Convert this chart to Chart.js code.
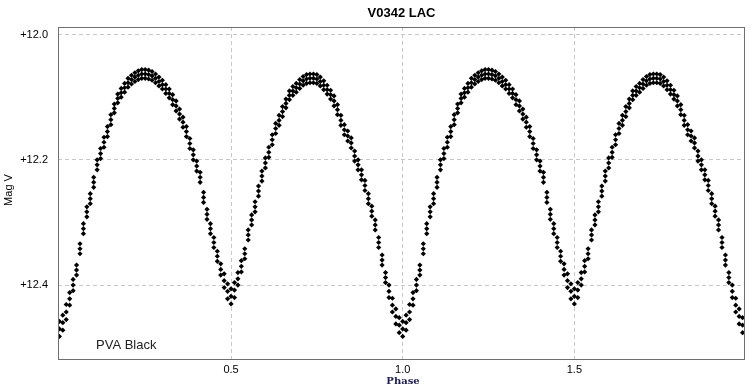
<!DOCTYPE html>
<html lang="en">
<head>
<meta charset="UTF-8">
<title>V0342 LAC</title>
<style>
  html, body { margin: 0; padding: 0; background: #fff; }
  #wrap { width: 752px; height: 389px; }
</style>
</head>
<body>
<div id="wrap"><canvas id="lc"></canvas></div>
<script src="https://cdn.jsdelivr.net/npm/chart.js"></script>
<script>
// phase of each reading (one cycle, plotted twice like the original)
const phases = [0.00,0.01,0.02,0.03,0.04,0.05,0.06,0.07,0.08,0.09,
  0.10,0.11,0.12,0.13,0.14,0.15,0.16,0.17,0.18,0.19,
  0.20,0.21,0.22,0.23,0.24,0.25,0.26,0.27,0.28,0.29,
  0.30,0.31,0.32,0.33,0.34,0.35,0.36,0.37,0.38,0.39,
  0.40,0.41,0.42,0.43,0.44,0.45,0.46,0.47,0.48,0.49,
  0.50,0.51,0.52,0.53,0.54,0.55,0.56,0.57,0.58,0.59,
  0.60,0.61,0.62,0.63,0.64,0.65,0.66,0.67,0.68,0.69,
  0.70,0.71,0.72,0.73,0.74,0.75,0.76,0.77,0.78,0.79,
  0.80,0.81,0.82,0.83,0.84,0.85,0.86,0.87,0.88,0.89,
  0.90,0.91,0.92,0.93,0.94,0.95,0.96,0.97,0.98,0.99];

// middle of the scattered band (mag V)
const magMid = [12.470,12.460,12.443,12.422,12.400,12.376,12.342,12.310,12.283,12.262,
  12.236,12.208,12.190,12.172,12.155,12.136,12.118,12.102,12.093,12.085,
  12.077,12.072,12.068,12.065,12.063,12.063,12.064,12.066,12.070,12.075,
  12.080,12.087,12.094,12.104,12.114,12.127,12.140,12.155,12.174,12.192,
  12.210,12.228,12.260,12.287,12.310,12.332,12.354,12.375,12.393,12.410,
  12.418,12.408,12.390,12.370,12.350,12.320,12.296,12.275,12.250,12.226,
  12.205,12.188,12.168,12.150,12.137,12.123,12.110,12.097,12.090,12.085,
  12.079,12.074,12.071,12.070,12.070,12.071,12.075,12.081,12.088,12.096,
  12.106,12.120,12.137,12.152,12.162,12.173,12.194,12.208,12.224,12.241,
  12.262,12.282,12.304,12.332,12.360,12.388,12.410,12.432,12.450,12.464];

// bright (upper) edge of the band
const magBright = [12.458,12.448,12.431,12.412,12.391,12.368,12.334,12.302,12.275,12.254,
  12.228,12.200,12.182,12.164,12.147,12.128,12.111,12.095,12.086,12.078,
  12.070,12.065,12.061,12.058,12.056,12.056,12.057,12.059,12.063,12.068,
  12.073,12.080,12.087,12.096,12.106,12.119,12.132,12.147,12.166,12.184,
  12.202,12.220,12.252,12.279,12.302,12.324,12.346,12.366,12.382,12.398,
  12.406,12.396,12.380,12.361,12.342,12.312,12.288,12.267,12.242,12.218,
  12.197,12.180,12.160,12.142,12.129,12.115,12.103,12.090,12.083,12.078,
  12.072,12.067,12.064,12.063,12.063,12.064,12.068,12.074,12.081,12.089,
  12.098,12.112,12.129,12.144,12.154,12.165,12.186,12.200,12.216,12.233,
  12.254,12.274,12.296,12.324,12.352,12.380,12.400,12.421,12.438,12.452];

// faint (lower) edge of the band
const magFaint = [12.482,12.472,12.455,12.432,12.409,12.384,12.350,12.318,12.291,12.270,
  12.244,12.216,12.198,12.180,12.163,12.144,12.125,12.109,12.100,12.092,
  12.084,12.079,12.075,12.072,12.070,12.070,12.071,12.073,12.077,12.082,
  12.087,12.094,12.101,12.112,12.122,12.135,12.148,12.163,12.182,12.200,
  12.218,12.236,12.268,12.295,12.318,12.340,12.362,12.384,12.404,12.422,
  12.430,12.420,12.400,12.379,12.358,12.328,12.304,12.283,12.258,12.234,
  12.213,12.196,12.176,12.158,12.145,12.131,12.117,12.104,12.097,12.092,
  12.086,12.081,12.078,12.077,12.077,12.078,12.082,12.088,12.095,12.103,
  12.114,12.128,12.145,12.160,12.170,12.181,12.202,12.216,12.232,12.249,
  12.270,12.290,12.312,12.340,12.368,12.396,12.420,12.443,12.462,12.476];

const xTicks = [0.5, 1.0, 1.5];
const yTicks = [12.0, 12.2, 12.4];

// phased curve shown over two cycles
function twoCycles(mags) {
  const pts = [];
  for (let c = 0; c < 2; c++) {
    phases.forEach((p, i) => pts.push({ x: p + c, y: mags[i] }));
  }
  return pts;
}

function dots(mags) {
  return {
    data: twoCycles(mags),
    pointStyle: 'rectRot',
    pointRadius: 2.6,
    pointBackgroundColor: '#000',
    pointBorderWidth: 0,
    showLine: false
  };
}

const decor = {
  id: 'decor',
  afterDraw(chart) {
    const ctx = chart.ctx;
    const a = chart.chartArea;
    ctx.save();
    ctx.strokeStyle = '#6e6e6e';
    ctx.lineWidth = 1;
    ctx.strokeRect(a.left + 0.5, a.top + 0.5, a.right - a.left - 1, a.bottom - a.top);

    ctx.fillStyle = '#000';
    ctx.textAlign = 'center';
    ctx.textBaseline = 'middle';
    ctx.font = 'bold 13px "Liberation Sans", Arial, sans-serif';
    ctx.fillText('V0342 LAC', (a.left + a.right) / 2, 13);

    ctx.font = '11px "Liberation Sans", Arial, sans-serif';
    ctx.save();
    ctx.translate(9, 190);
    ctx.rotate(-Math.PI / 2);
    ctx.fillText('Mag V', 0, 0);
    ctx.restore();

    ctx.fillStyle = '#1c1c50';
    ctx.font = 'bold 10px "DejaVu Serif", serif';
    ctx.fillText('Phase', 403, 381);

    ctx.fillStyle = '#222';
    ctx.textAlign = 'left';
    ctx.font = '13px "Liberation Sans", Arial, sans-serif';
    ctx.fillText('PVA Black', 96, 345);
    ctx.restore();
  }
};

new Chart(document.getElementById('lc'), {
  type: 'scatter',
  data: { datasets: [dots(magBright), dots(magMid), dots(magFaint)] },
  options: {
    responsive: true,
    maintainAspectRatio: false,
    animation: false,
    layout: { padding: { top: 27, right: 7, left: 0, bottom: 0 } },
    plugins: { legend: { display: false }, tooltip: { enabled: false }, title: { display: false } },
    scales: {
      x: {
        type: 'linear',
        min: -0.004,
        max: 1.997,
        afterBuildTicks: s => { s.ticks = xTicks.map(v => ({ value: v })); },
        afterFit: s => { s.height = 30; },
        ticks: {
          callback: v => v.toFixed(1),
          font: { size: 11, family: '"Liberation Sans", Arial, sans-serif' },
          color: '#000',
          padding: 4,
          maxRotation: 0,
          autoSkip: false
        },
        grid: { color: '#c8c8c8', drawTicks: false, lineWidth: 1 },
        border: { display: false, dash: [4, 3] }
      },
      y: {
        type: 'linear',
        reverse: true,
        min: 11.988,
        max: 12.518,
        afterBuildTicks: s => { s.ticks = yTicks.map(v => ({ value: v })); },
        afterFit: s => { s.width = 58; },
        ticks: {
          callback: v => '+' + v.toFixed(1),
          font: { size: 11, family: '"Liberation Sans", Arial, sans-serif' },
          color: '#000',
          padding: 10
        },
        grid: { color: '#c8c8c8', drawTicks: false, lineWidth: 1 },
        border: { display: false, dash: [4, 3] }
      }
    }
  },
  plugins: [decor]
});
</script>
</body>
</html>
